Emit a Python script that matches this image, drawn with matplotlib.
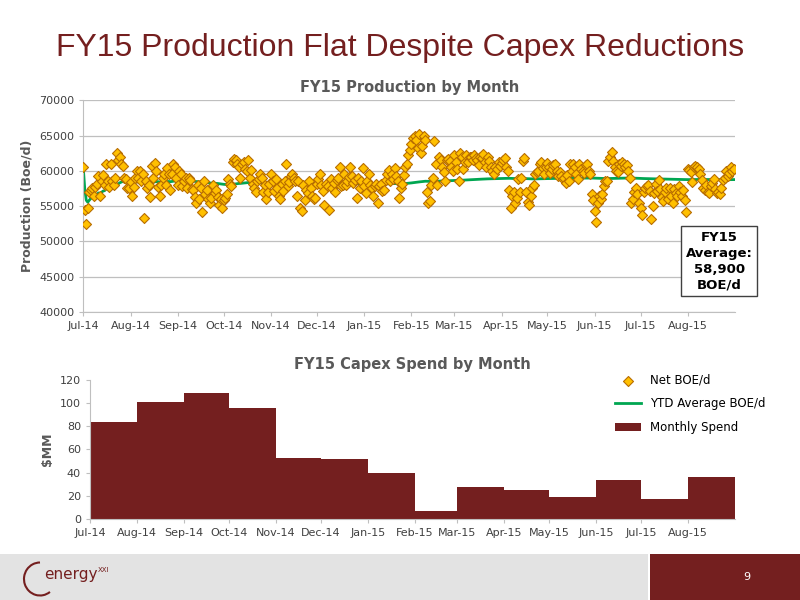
import numpy as np
import pandas as pd
import matplotlib
matplotlib.use("Agg")
import matplotlib.pyplot as plt
import matplotlib.dates as mdates
from matplotlib.patches import Rectangle, Arc

# daily net production (BOE/d), one list per month
jul14 = [60600, 54400, 52500, 54700, 57000, 57300, 57500, 56500, 57700, 58100, 59200, 56400, 58500, 59400, 58000,
         61000, 58500, 57700, 61000, 58500, 58000, 59000, 62500, 61600, 62000, 61000, 60700, 59000, 58900, 57500, 57500]
aug14 = [58400, 56500, 57700, 59000, 60000, 59000, 60000, 58500, 59500, 53300, 58500, 57500, 58000, 56300, 60700,
         59000, 61100, 60000, 57700, 56400, 58000, 59000, 59500, 58000, 60400, 59500, 57300, 59600, 61000, 60500, 59000]
sep14 = [58000, 60000, 59500, 57900, 58500, 59000, 57500, 59000, 58700, 57400, 57300, 56300, 55500, 58000, 56000,
         57600, 54200, 58500, 56700, 57300, 56000, 55500, 56100, 58000, 56800, 57300, 56300, 55200, 56000, 54800]
oct14 = [55800, 56200, 56700, 58800, 58200, 57800, 61200, 61700, 61500, 61000, 60500, 59000, 60900, 61300, 60200,
         60000, 61500, 59000, 60100, 58200, 57600, 57000, 58500, 58800, 59500, 59000, 57000, 58000, 56000, 57000, 58200]
nov14 = [59600, 58600, 57200, 58800, 57500, 56500, 56000, 58200, 57200, 58500, 60900, 57800, 58400, 59300, 59600,
         59000, 58500, 56400, 58600, 54700, 54300, 58000, 55900, 57300, 56900, 58500, 57500, 56400, 56000, 56200]
dec14 = [58100, 58900, 59600, 58000, 57200, 55200, 58200, 57800, 54500, 58800, 57500, 58300, 57000, 58700, 59000,
         60600, 57900, 58000, 59600, 58000, 58600, 59100, 60600, 59300, 58300, 58700, 56100, 59000, 57600, 58500, 60400]
jan15 = [57800, 56800, 58500, 59500, 58000, 57500, 56500, 57800, 58200, 55500, 57800, 58200, 57200, 57300, 58700,
         59600, 60100, 58500, 59600, 58800, 60400, 59200, 58500, 56200, 57600, 58200, 59400, 60500, 61000, 62300, 63000]
feb15 = [63800, 64700, 65000, 64300, 63200, 65200, 62500, 63500, 65000, 64300, 57000, 55400, 55700, 58000, 59000,
         64200, 61000, 58000, 62000, 61500, 60500, 59800, 58500, 61600, 61700, 61400, 60500, 60000]
mar15 = [62200, 61300, 60300, 58500, 62500, 61900, 60300, 61300, 62200, 61300, 61900, 62000, 61500, 62300, 61800,
         61500, 60800, 62000, 61800, 62400, 61200, 60500, 61900, 61400, 60600, 60000, 59500, 60500, 60300, 61200, 60700]
apr15 = [61100, 61500, 61800, 60500, 60000, 57300, 54800, 56400, 57000, 55500, 56100, 58800, 57000, 59000, 61400,
         61800, 57000, 55600, 55200, 56500, 57600, 58000, 59500, 59800, 60000, 61000, 61200, 60400, 59600, 60500]
may15 = [61100, 60500, 59700, 60300, 60800, 61000, 60000, 59200, 59800, 59300, 58800, 59000, 58300, 59400, 58600,
         61000, 60000, 61000, 60500, 59500, 58800, 61000, 60300, 60000, 59700, 60800, 61000, 60000, 59500, 56700, 55800]
jun15 = [54300, 52800, 55500, 56500, 56000, 56700, 57800, 58500, 58500, 61400, 62000, 62600, 61400, 60500, 60000,
         59800, 61000, 60700, 61300, 61000, 60500, 60800, 60000, 59000, 55400, 56000, 57000, 57600, 56700, 55500]
jul15 = [54700, 53800, 57000, 57500, 57800, 58000, 57200, 53200, 55000, 56800, 58200, 57200, 58700, 57400, 56300,
         55700, 57000, 57500, 56000, 57500, 56400, 55500, 57400, 56900, 56500, 57800, 57000, 56400, 57300, 55800, 54100]
aug15 = [60300, 60100, 59800, 58400, 60500, 60700, 60600, 60300, 59500, 58700, 57600, 57300, 58000, 57000, 56900,
         57800, 58300, 58800, 57400, 56800, 57000, 56700, 57600, 58700, 59000, 60000, 59200, 59700, 60500, 60000, 60200]
production = (jul14 + aug14 + sep14 + oct14 + nov14 + dec14 + jan15 + feb15 + mar15 + apr15 + may15
              + jun15 + jul15 + aug15)

month_labels = ["Jul-14", "Aug-14", "Sep-14", "Oct-14", "Nov-14", "Dec-14", "Jan-15", "Feb-15", "Mar-15",
                "Apr-15", "May-15", "Jun-15", "Jul-15", "Aug-15"]
capex = [84, 101, 109, 96, 53, 52, 40, 7, 28, 25, 19, 34, 17, 36]

RED = "#741F1F"
GREEN = "#00A651"

days = pd.date_range("2014-07-01", periods=len(production), freq="D")
prod = pd.Series(production, index=days)
ytd = prod.expanding().mean()
months = pd.date_range("2014-07-01", periods=len(capex), freq="MS")
widths = [pd.Timestamp(m).days_in_month for m in months]
xmin, xmax = pd.Timestamp("2014-07-01"), pd.Timestamp("2015-09-01")

fig = plt.figure(figsize=(8, 6), dpi=100)
fig.text(0.5, 0.92, "FY15 Production Flat Despite Capex Reductions", ha="center", va="center",
         fontsize=23, color=RED, family="Liberation Sans")

# --- top: daily production ---
ax1 = fig.add_axes([0.104, 0.48, 0.815, 0.353])
ax1.scatter(prod.index, prod.values, marker="D", s=26, facecolor="#FFC000", edgecolor="#B86E00",
            linewidth=0.8, zorder=3, label="Net BOE/d")
ax1.plot(ytd.index, ytd.values, color=GREEN, lw=2, zorder=2, label="YTD Average BOE/d")
ax1.set_xlim(xmin, xmax)
ax1.set_ylim(40000, 70000)
ax1.set_yticks(range(40000, 70001, 5000))
ax1.set_xticks(months)
ax1.set_xticklabels(month_labels)
ax1.set_ylabel("Production (Boe/d)", fontsize=9, fontweight="bold", color="#595959")
ax1.set_title("FY15 Production by Month", fontsize=10.5, fontweight="bold", color="#595959", pad=6)
ax1.grid(axis="y", color="#BFBFBF", lw=0.9)
ax1.set_axisbelow(True)

# --- bottom: monthly capex ---
ax2 = fig.add_axes([0.1125, 0.135, 0.806, 0.232])
ax2.bar(months, capex, width=widths, align="edge", color=RED, label="Monthly Spend")
ax2.set_xlim(xmin, xmax)
ax2.set_ylim(0, 120)
ax2.set_yticks(range(0, 121, 20))
ax2.set_xticks(months)
ax2.set_xticklabels(month_labels)
ax2.set_ylabel("$MM", fontsize=9, fontweight="bold", color="#595959")
ax2.set_title("FY15 Capex Spend by Month", fontsize=10.5, fontweight="bold", color="#595959", pad=8)

for ax in (ax1, ax2):
    for s in ("top", "right"):
        ax.spines[s].set_visible(False)
    for s in ("left", "bottom"):
        ax.spines[s].set_color("#BFBFBF")
    ax.tick_params(labelsize=8, colors="#404040", length=3, color="#BFBFBF")

h1, l1 = ax1.get_legend_handles_labels()
h2, l2 = ax2.get_legend_handles_labels()
leg = fig.legend(h1 + h2, l1 + l2, loc="upper left", bbox_to_anchor=(0.755, 0.395), fontsize=8.5,
                 frameon=True, fancybox=False, edgecolor="white", facecolor="white", handlelength=2.2,
                 labelspacing=0.9)
leg.set_zorder(5)

fig.text(0.899, 0.565, "FY15\nAverage:\n58,900\nBOE/d", ha="center", va="center", fontsize=9.5,
         fontweight="bold", linespacing=1.3,
         bbox=dict(boxstyle="square,pad=0.35", facecolor="white", edgecolor="#404040"))

# footer band
fig.patches.append(Rectangle((0, 0), 0.81, 0.076, transform=fig.transFigure, facecolor="#E3E3E3",
                             edgecolor="none", zorder=0))
fig.patches.append(Rectangle((0.812, 0), 0.188, 0.076, transform=fig.transFigure, facecolor=RED,
                             edgecolor="none", zorder=0))
fig.text(0.934, 0.038, "9", color="white", fontsize=8, ha="center", va="center")
fig.patches.append(Arc((0.05, 0.035), 0.04, 0.055, theta1=90, theta2=300, transform=fig.transFigure,
                       color=RED, lw=1.5))
fig.text(0.055, 0.042, "energy", color=RED, fontsize=11, ha="left", va="center")
fig.text(0.122, 0.05, "XXI", color=RED, fontsize=5, ha="left", va="center")

fig.savefig("out.png", dpi=100)
